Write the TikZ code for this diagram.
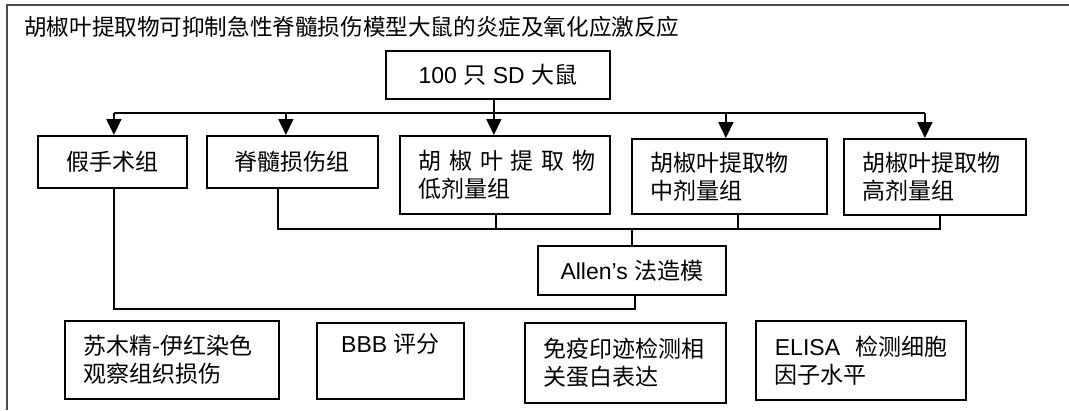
\documentclass[tikz,border=0pt]{standalone}
\usepackage{fontspec}
\setmainfont{Liberation Sans}
\newfontfamily\cjk{Noto Sans CJK SC}
\usetikzlibrary{arrows.meta}
\newcommand{\zh}[1]{\mbox{\cjk #1}}
\begin{document}
\begin{tikzpicture}[x=1pt,y=-1pt,
  txt/.style={font=\fontsize{23}{28}\selectfont},
  box/.style={txt, draw=black, line width=1.8pt, inner sep=0pt, align=center, anchor=north west},
  lbox/.style={box, align=left, inner xsep=19pt},
  line/.style={line width=1.8pt, draw=black},
  arr/.style={line, -{Triangle[length=16pt,width=15pt]}}]
\useasboundingbox (0,0) rectangle (1069,410);
\fill[white] (0,0) rectangle (1069,410);
% frame
\draw[line width=1.8pt, draw=black!70] (1069,5) -- (7,5) -- (7,410);
% title
\node[font=\fontsize{22.6}{28}\selectfont, anchor=west, inner sep=0pt] (title) at (24,27) {\zh{胡椒叶提取物可抑制急性脊髓损伤模型大鼠的炎症及氧化应激反应}};
% nodes
\node[box, minimum width=224, minimum height=48] (top) at (385,50) {100 \zh{只} SD \zh{大鼠}};
\node[box, minimum width=149, minimum height=52] (sham) at (37,135) {\zh{假手术组}};
\node[box, minimum width=171, minimum height=52] (sci) at (206,135) {\zh{脊髓损伤组}};
\node[lbox, text width=172, minimum height=78] (low) at (399,135) {\zh{胡 椒 叶 提 取 物}\\\zh{低剂量组}};
\node[lbox, text width=157, minimum height=75] (mid) at (631,138) {\zh{胡椒叶提取物}\\\zh{中剂量组}};
\node[lbox, text width=144, minimum height=76] (high) at (843,138) {\zh{胡椒叶提取物}\\\zh{高剂量组}};
\node[box, minimum width=188, minimum height=49] (allen) at (537,245) {Allen’s \zh{法造模}};
\node[lbox, text width=176, minimum height=78] (he) at (64,320) {\zh{苏木精-伊红染色}\\\zh{观察组织损伤}};
\node[box, minimum width=147, minimum height=76] (bbb) at (316,322) {BBB \zh{评分}\\\strut};
\node[lbox, text width=163, minimum height=80] (wb) at (524,322) {\zh{免疫印迹检测相}\\\zh{关蛋白表达}};
\node[lbox, text width=172, minimum height=79] (elisa) at (755,320) {ELISA~~\zh{检测细胞}\\\zh{因子水平}};
% upper connectors
\coordinate (bus) at (0,113);
\coordinate (t0) at ([xshift=-4pt]top.south);
\coordinate (a1) at ([xshift=1.5pt]sham.north);
\coordinate (a2) at ([xshift=-6.5pt]sci.north);
\coordinate (a3) at ([xshift=-11pt]low.north);
\coordinate (a4) at ([xshift=-3.5pt]mid.north);
\coordinate (a5) at ([xshift=-10pt]high.north);
\draw[line] (t0) -- (t0 |- bus);
\draw[line] (a1 |- bus) -- (a5 |- bus);
\foreach \a in {a1,a2,a3,a4,a5} \draw[arr] (\a |- bus) -- (\a);
% lower connectors
\coordinate (bus2) at (0,229);
\coordinate (s2) at ([xshift=-14.5pt]sci.south);
\coordinate (l2) at ([xshift=-9pt]low.south);
\coordinate (m2) at ([xshift=8.5pt]mid.south);
\coordinate (h2) at ([xshift=5pt]high.south);
\draw[line] (s2) -- (s2 |- bus2) -- (h2 |- bus2) -- (h2);
\draw[line] (l2) -- (l2 |- bus2);
\draw[line] (m2) -- (m2 |- bus2);
\draw[line] (allen.north |- bus2) -- (allen.north);
\coordinate (bus3) at (0,309);
\coordinate (sb) at ([xshift=1.5pt]sham.south);
\coordinate (ab) at ([xshift=3pt]allen.south);
\draw[line] (sb) -- (sb |- bus3) -- (ab |- bus3) -- (ab);
\end{tikzpicture}
\end{document}
